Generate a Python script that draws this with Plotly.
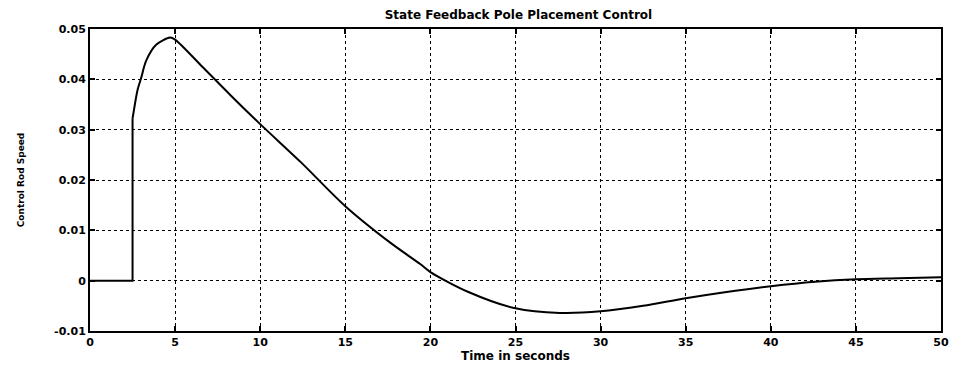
import plotly.graph_objects as go

# Time (s) and control rod speed
time_s = [0, 2.5, 2.5, 2.8, 3.0, 3.3, 3.9, 4.7, 5.0, 6.6, 8.3, 10.0, 12.4, 15.0,
          17.7, 19.4, 20.0, 22.2, 25.0, 27.6, 30.0, 32.5, 35.0, 37.3, 40.0,
          42.6, 45.0, 47.5, 50.0]
rod_speed = [0, 0, 0.0322, 0.0380, 0.0402, 0.0437, 0.0469, 0.0483, 0.0479,
             0.0425, 0.0367, 0.0311, 0.0235, 0.0148, 0.0074, 0.0033, 0.0017,
             -0.0022, -0.0055, -0.0064, -0.0061, -0.0050, -0.0035, -0.0023,
             -0.0011, -0.0002, 0.0003, 0.0005, 0.0007]

x_ticks = [0, 5, 10, 15, 20, 25, 30, 35, 40, 45, 50]
y_ticks = [-0.01, 0, 0.01, 0.02, 0.03, 0.04, 0.05]
y_tick_text = ["-0.01", "0", "0.01", "0.02", "0.03", "0.04", "0.05"]

title_text = "State Feedback Pole Placement Control"
x_title = "Time in seconds"
y_title = "Control Rod Speed"

FONT = "DejaVu Sans"
STEP_END = 3  # indices before this form the initial step (drawn straight)

fig = go.Figure()
# initial zero segment and vertical jump
fig.add_trace(go.Scatter(
    x=time_s[:STEP_END], y=rod_speed[:STEP_END], mode="lines",
    line=dict(color="black", width=2),
    showlegend=False, hoverinfo="skip",
))
# smooth response
fig.add_trace(go.Scatter(
    x=time_s[STEP_END - 1:], y=rod_speed[STEP_END - 1:], mode="lines",
    line=dict(color="black", width=2, shape="spline", smoothing=0.8),
    showlegend=False, hoverinfo="skip",
))

axis_common = dict(
    showline=True, linecolor="black", linewidth=2, mirror="ticks",
    ticks="inside", ticklen=5, tickcolor="black", tickwidth=2,
    showgrid=True, gridcolor="black", gridwidth=1, griddash="dot",
    zeroline=False,
    tickfont=dict(family=FONT, size=11, color="black", weight="bold"),
)

fig.update_xaxes(
    range=[0, 50], tickvals=x_ticks, ticktext=[str(v) for v in x_ticks],
    title=dict(text=x_title, standoff=1,
               font=dict(family=FONT, size=12, color="black", weight="bold")),
    **axis_common,
)
fig.update_yaxes(
    range=[-0.01, 0.05], tickvals=y_ticks, ticktext=y_tick_text,
    title=dict(text=y_title, standoff=28,
               font=dict(family=FONT, size=9, color="black", weight="bold")),
    **axis_common,
)

fig.update_layout(
    width=961, height=371,
    margin=dict(l=90, r=14, t=29, b=28),
    paper_bgcolor="white", plot_bgcolor="white",
    title=dict(text=title_text, x=0.5395, xanchor="center", y=0.96, yanchor="middle",
               font=dict(family=FONT, size=12, color="black", weight="bold")),
)

fig.write_html("out.html")
